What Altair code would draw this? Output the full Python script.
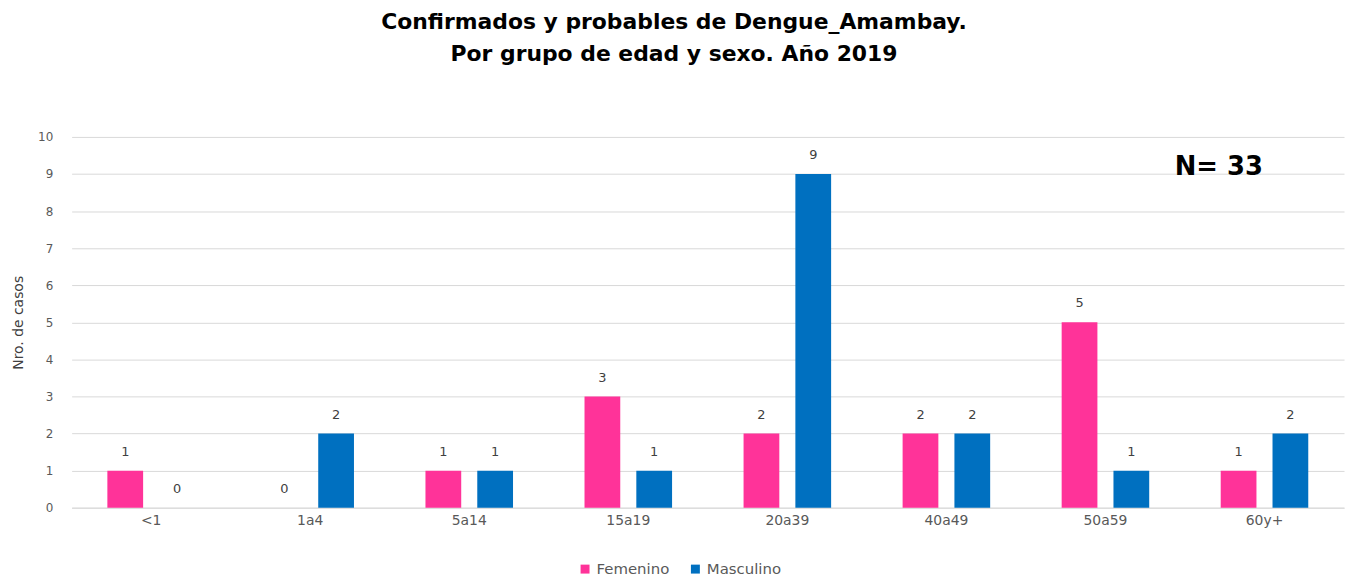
import altair as alt
import pandas as pd

grupos = ["<1", "1a4", "5a14", "15a19", "20a39", "40a49", "50a59", "60y+"]
femenino = [1, 0, 1, 3, 2, 2, 5, 1]
masculino = [0, 2, 1, 1, 9, 2, 1, 2]
sexos = ["Femenino", "Masculino"]
colores = ["#FF3399", "#0070C0"]
y_ticks = [0, 1, 2, 3, 4, 5, 6, 7, 8, 9, 10]

rows = []
for g, f, m in zip(grupos, femenino, masculino):
    rows.append({"grupo": g, "sexo": "Femenino", "casos": f})
    rows.append({"grupo": g, "sexo": "Masculino", "casos": m})
df = pd.DataFrame(rows)

FONT = "DejaVu Sans"

x = alt.X("grupo:N", sort=grupos, title=None,
          scale=alt.Scale(paddingInner=0, paddingOuter=0),
          axis=alt.Axis(labelAngle=0, labelFontSize=14, labelColor="#595959",
                        labelPadding=6, domain=True, domainColor="#d9d9d9", ticks=False,
                        labelFont=FONT))
xoff = alt.XOffset("sexo:N", sort=sexos,
                   scale=alt.Scale(paddingInner=0.31, paddingOuter=0.69))
y = alt.Y("casos:Q", title="Nro. de casos",
          scale=alt.Scale(domain=[0, 10], nice=False),
          axis=alt.Axis(values=y_ticks, domain=False, ticks=False,
                        labelFontSize=12, labelColor="#595959", labelPadding=19,
                        gridColor="#d9d9d9", titleFontSize=14, titleFontWeight="normal",
                        titleColor="#404040", titlePadding=12, labelFont=FONT, titleFont=FONT))

base = alt.Chart(df)

bars = base.mark_bar().encode(
    x=x, xOffset=xoff, y=y,
    color=alt.Color("sexo:N", sort=sexos, title=None,
                    scale=alt.Scale(domain=sexos, range=colores),
                    legend=alt.Legend(orient="none", direction="horizontal",
                                      legendX=509, legendY=427,
                                      symbolType="square", symbolSize=81,
                                      symbolStrokeWidth=0,
                                      labelFontSize=15, labelColor="#595959",
                                      labelFont=FONT, columnPadding=18)),
)

labels = base.mark_text(dy=-19, fontSize=13, color="#404040", font=FONT).encode(
    x=x, xOffset=xoff, y=y, text="casos:Q"
)

nlabel = alt.Chart(pd.DataFrame({"t": ["N= 33"]})).mark_text(
    fontSize=26, fontWeight="bold", font=FONT, color="#000000", align="center"
).encode(x=alt.value(1154), y=alt.value(30), text="t:N")

chart = alt.layer(bars, labels, nlabel).properties(
    width=1280, height=373,
    autosize=alt.AutoSizeParams(type="none"),
    padding={"left": 64, "top": 128, "right": 2, "bottom": 70},
    title=alt.TitleParams(
        text=["Confirmados y probables de Dengue_Amambay.", "Por grupo de edad y sexo. Año 2019"],
        fontSize=22, fontWeight="bold", font=FONT, color="#000000",
        lineHeight=33, offset=65, anchor="middle", dx=-34,
    ),
).configure_view(stroke=None)

chart.save("out.html", embed_options={"renderer": "svg", "actions": False})
